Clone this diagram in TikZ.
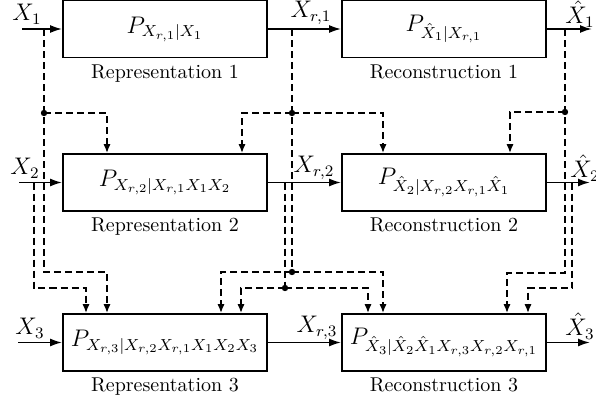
\documentclass[tikz,border=0pt]{standalone}
\usetikzlibrary{arrows.meta}
\begin{document}
\begin{tikzpicture}[x=0.5pt,y=-0.5pt,
  blk/.style={draw, line width=0.9pt, minimum width=102pt, minimum height=28.5pt, inner sep=0pt, font=\large},
  captxt/.style={anchor=north, inner sep=0pt, font=\normalsize},
  lab/.style={inner sep=0pt, font=\large},
  sarr/.style={line width=0.9pt, -{Latex[length=6pt,width=4pt]}},
  dln/.style={line width=0.8pt, dash pattern=on 3.5pt off 2pt},
  darr/.style={dln, -{Latex[length=4.5pt,width=3.6pt]}},
  dotn/.style={circle, fill, inner sep=0pt, minimum size=3.2pt}]
\useasboundingbox (0,0) rectangle (596,402);

% blocks
\node[blk] (rep1) at (165,29) {$P_{X_{r,1}|X_1}$};
\node[blk] (rec1) at (444,29) {$P_{\hat X_1|X_{r,1}}$};
\node[blk] (rep2) at (165,182.5) {$P_{X_{r,2}|X_{r,1}X_1X_2}$};
\node[blk] (rec2) at (444,182.5) {$P_{\hat X_2|X_{r,2}X_{r,1}\hat X_1}$};
\node[blk] (rep3) at (165,342.5) {$P_{X_{r,3}|X_{r,2}X_{r,1}X_1X_2X_3}$};
\node[blk] (rec3) at (444,342.5) {$P_{\hat X_3|\hat X_2\hat X_1X_{r,3}X_{r,2}X_{r,1}}$};

% captions
\node[captxt] (crep1) at ([yshift=-3pt]rep1.south) {Representation 1};
\node[captxt] (crec1) at ([yshift=-3pt]rec1.south) {Reconstruction 1};
\node[captxt] (crep2) at ([yshift=-3pt]rep2.south) {Representation 2};
\node[captxt] (crec2) at ([yshift=-3pt]rec2.south) {Reconstruction 2};
\node[captxt] (crep3) at ([yshift=-3pt]rep3.south) {Representation 3};
\node[captxt] (crec3) at ([yshift=-3pt]rec3.south) {Reconstruction 3};

% signal labels
\node[lab] (lx1) at (27,14) {$X_1$};
\node[lab] (lx2) at (25,168) {$X_2$};
\node[lab] (lx3) at (30,328) {$X_3$};
\node[lab] (lr1) at (311,13) {$X_{r,1}$};
\node[lab] (lr2) at (314,168) {$X_{r,2}$};
\node[lab] (lr3) at (317,328) {$X_{r,3}$};
\node[lab] (lh1) at (580,14) {$\hat X_1$};
\node[lab] (lh2) at (585,168) {$\hat X_2$};
\node[lab] (lh3) at (580,326) {$\hat X_3$};

% free ends
\coordinate (in1) at (22,29);
\coordinate (in2) at (19,182.5);
\coordinate (in3) at (18,342.5);
\coordinate (out1) at (592,29);
\coordinate (out2) at (590,182.5);
\coordinate (out3) at (590,342.5);

% solid arrows
\draw[sarr] (in1) -- (rep1.west);
\draw[sarr] (in2) -- (rep2.west);
\draw[sarr] (in3) -- (rep3.west);
\draw[sarr] (rep1.east) -- (rec1.west);
\draw[sarr] (rep2.east) -- (rec2.west);
\draw[sarr] (rep3.east) -- (rec3.west);
\draw[sarr] (rec1.east) -- (out1);
\draw[sarr] (rec2.east) -- (out2);
\draw[sarr] (rec3.east) -- (out3);

% tap points and bends
\coordinate (tx1) at (44,29);
\coordinate (dx1) at (44,113);
\coordinate (kx1) at (44,272);
\coordinate (c1) at (107,272);
\coordinate (c2) at (107,113);
\coordinate (tx2) at (34,182.5);
\coordinate (kx2) at (34,288);
\coordinate (c3) at (86,288);
\coordinate (tr1) at (292,29);
\coordinate (dr1a) at (292,113);
\coordinate (dr1b) at (292,272);
\coordinate (c4) at (242,113);
\coordinate (c5) at (383,113);
\coordinate (c6) at (221,272);
\coordinate (c7) at (383,272);
\coordinate (tr2) at (285,182.5);
\coordinate (dr2) at (285,288);
\coordinate (c8) at (241,288);
\coordinate (c9) at (368,288);
\coordinate (th1) at (565,29);
\coordinate (dh1) at (565,112);
\coordinate (kh1) at (565,273);
\coordinate (c10) at (510,112);
\coordinate (c11) at (507,273);
\coordinate (th2) at (572,182.5);
\coordinate (kh2) at (572,288);
\coordinate (c12) at (528,288);

% dashed feeds: X1
\draw[darr] (tx1) -- (kx1) -- (c1) -- (c1 |- rep3.north);
\draw[darr] (dx1) -- (c2) -- (c2 |- rep2.north);
% X2
\draw[darr] (tx2) -- (kx2) -- (c3) -- (c3 |- rep3.north);
% Xr1
\draw[dln] (tr1) -- (dr1b);
\draw[darr] (dr1a) -- (c4) -- (c4 |- rep2.north);
\draw[darr] (dr1a) -- (c5) -- (c5 |- rec2.north);
\draw[darr] (dr1b) -- (c6) -- (c6 |- rep3.north);
\draw[darr] (dr1b) -- (c7) -- (c7 |- rec3.north);
% Xr2
\draw[dln] (tr2) -- (dr2);
\draw[darr] (dr2) -- (c8) -- (c8 |- rep3.north);
\draw[darr] (dr2) -- (c9) -- (c9 |- rec3.north);
% Xhat1
\draw[darr] (th1) -- (kh1) -- (c11) -- (c11 |- rec3.north);
\draw[darr] (dh1) -- (c10) -- (c10 |- rec2.north);
% Xhat2
\draw[darr] (th2) -- (kh2) -- (c12) -- (c12 |- rec3.north);

% branch dots
\node[dotn] (p1) at (dx1) {};
\node[dotn] (p2) at (dr1a) {};
\node[dotn] (p3) at (dr1b) {};
\node[dotn] (p4) at (dr2) {};
\node[dotn] (p5) at (dh1) {};
\end{tikzpicture}
\end{document}
